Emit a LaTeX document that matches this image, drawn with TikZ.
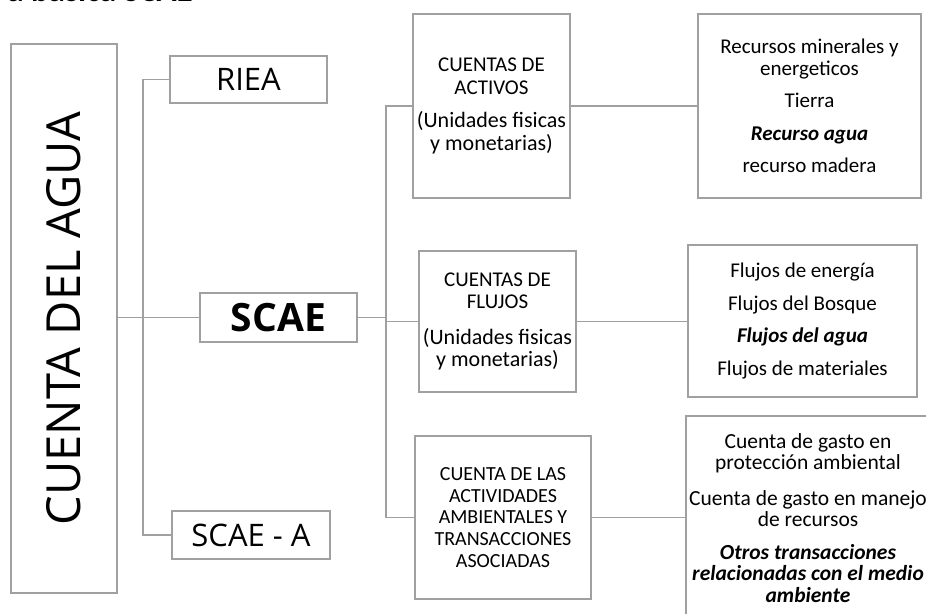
\documentclass[tikz,border=0pt]{standalone}
\usepackage{fontspec}
\setmainfont{Carlito}
\newfontfamily\segoe{Open Sans}
\usepackage{tikz}
\usepackage{xcolor}
\definecolor{linegray}{HTML}{A0A0A0}

\begin{document}
\begin{tikzpicture}[x=1pt, y=-1pt, align=flush center, inner sep=0pt]
	\tikzstyle{box}=[draw=linegray, line width=1.6pt, fill=white]
	\tikzstyle{link}=[draw=linegray, line width=1.6pt]
	\tikzstyle{small}=[font=\fontsize{21}{22.5}\selectfont]
	\tikzstyle{list}=[font=\fontsize{21}{22}\selectfont]
	\useasboundingbox (0,0) rectangle (926,613);
	\clip (0,0) rectangle (926,613);

	\node[anchor=base east, font=\fontsize{33}{36}\selectfont\bfseries] (title) at (193,1.5) {a básica SCAE};

	\node[box, minimum width=106pt, minimum height=549pt, font=\segoe\fontsize{47}{50}\selectfont] (agua) at (64,318.5) {\rotatebox{90}{CUENTA DEL AGUA}};

	\node[box, minimum width=157pt, minimum height=47pt, font=\segoe\fontsize{31}{34}\selectfont] (riea) at (248.5,79.5) {RIEA};
	\node[box, minimum width=157pt, minimum height=49pt, font=\segoe\bfseries\fontsize{39}{42}\selectfont] (scae) at (278.5,317.5) {SCAE};
	\node[box, minimum width=158pt, minimum height=48pt, font=\segoe\fontsize{31}{34}\selectfont] (scaea) at (251,535) {SCAE - A};

	\node[box, small, minimum width=157pt, minimum height=184pt] (activos) at (491.5,106)
		{CUENTAS DE\\ ACTIVOS\\[11pt] {\fontsize{22}{22.5}\selectfont (Unidades fisicas}\\ {\fontsize{22}{22.5}\selectfont y monetarias)}};
	\node[box, small, minimum width=157pt, minimum height=141pt] (flujos) at (497.5,321.5)
		{CUENTAS DE\\ FLUJOS\\[13pt] {\fontsize{22}{22.5}\selectfont (Unidades fisicas}\\ {\fontsize{22}{22.5}\selectfont y monetarias)}};
	\node[box, font=\fontsize{20}{21.7}\selectfont, minimum width=176pt, minimum height=163pt] (activ) at (503,517.5)
		{CUENTA DE LAS\\ ACTIVIDADES\\ AMBIENTALES Y\\ TRANSACCIONES\\ ASOCIADAS};

	\node[box, list, minimum width=223pt, minimum height=184pt] (recursos) at (809.5,106)
		{Recursos minerales y\\ energeticos\\[10.5pt] Tierra\\[10.5pt] \textbf{\textit{Recurso agua}}\\[10.5pt] recurso madera};
	\node[box, list, minimum width=229pt, minimum height=152pt] (flujosr) at (802.5,321)
		{Flujos de energía\\[10.5pt] Flujos del Bosque\\[10.5pt] \textbf{\textit{Flujos del agua}}\\[10.5pt] Flujos de materiales};
	\node[box, font=\fontsize{21.5}{21}\selectfont, minimum width=244pt, minimum height=205pt] (otros) at (808,518.5)
		{Cuenta de gasto en\\ protección ambiental\\[15pt] Cuenta de gasto en manejo\\ de recursos\\[12pt]
		\textbf{\textit{Otros transacciones}}\\ \textbf{\textit{relacionadas con el medio}}\\[1pt] \textbf{\textit{ambiente}}};

	\coordinate (fork) at (386,0);
	\draw[link] (scae.west -| agua.east) -- (scae.west);
	\draw[link] (riea.west) -- ++(-26,0) |- (scaea.west);
	\draw[link] (scae.east) -- (scae.east -| fork);
	\draw[link] (activos.west) -- (activos.west -| fork) |- (activ.west);
	\draw[link] (flujos.west -| fork) -- (flujos.west);
	\draw[link] (activos) -- (recursos);
	\draw[link] (flujos.east) -- (flujos.east -| flujosr.west);
	\draw[link] (activ.east) -- (activ.east -| otros.west);
\end{tikzpicture}
\end{document}
